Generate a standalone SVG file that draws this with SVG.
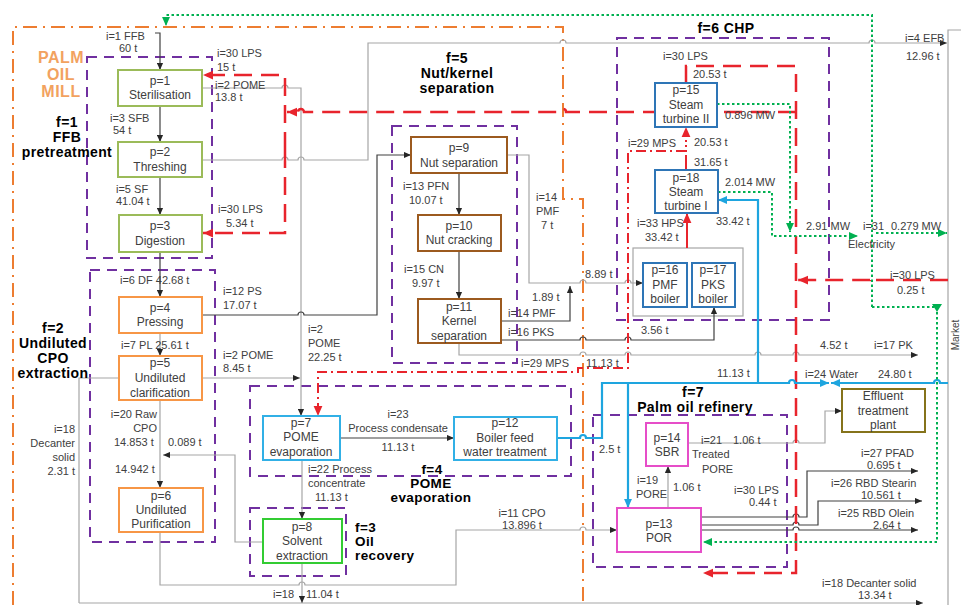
<svg xmlns="http://www.w3.org/2000/svg" width="961" height="605" viewBox="0 0 961 605">
<defs>
<style>
text{font-family:"Liberation Sans",Arial,sans-serif;font-size:11px;fill:#404040}
.n{font-size:12px;text-anchor:middle}
.m{text-anchor:middle}
.e{text-anchor:end}
.g{font-weight:bold;font-size:14px;fill:#000;text-anchor:middle;letter-spacing:0.4px}
.pm{font-weight:bold;font-size:16px;fill:#f2a25f;text-anchor:middle;letter-spacing:0.5px}
.grp{fill:none;stroke:#7030a0;stroke-width:2;stroke-dasharray:10 7}
.or{fill:none;stroke:#ed7d31;stroke-width:2;stroke-dasharray:14 6 2 6}
.gl{fill:none;stroke:#a6a6a6;stroke-width:1.2}
.bl{fill:none;stroke:#404040;stroke-width:1.2}
.rd{fill:none;stroke:#e8242c;stroke-width:2.5;stroke-dasharray:18 9}
.rdd{fill:none;stroke:#e8242c;stroke-width:2;stroke-dasharray:10 4 2 4}
.rs{fill:none;stroke:#e8242c;stroke-width:2}
.bu{fill:none;stroke:#1ea5df;stroke-width:2.2}
.gr{fill:none;stroke:#00b050;stroke-width:2;stroke-dasharray:2.5 2.5}
.nd{fill:#fff;stroke-width:2}
</style>
<marker id="ak" viewBox="0 0 8 8" refX="8" refY="4" markerWidth="7" markerHeight="7" markerUnits="userSpaceOnUse" orient="auto"><path d="M0,0.5 L8,4 L0,7.5z" fill="#262626"/></marker>
<marker id="ar" viewBox="0 0 8 8" refX="8" refY="4" markerWidth="10" markerHeight="10" markerUnits="userSpaceOnUse" orient="auto"><path d="M0,0.5 L8,4 L0,7.5z" fill="#e8242c"/></marker>
<marker id="ab" viewBox="0 0 8 8" refX="8" refY="4" markerWidth="9" markerHeight="9" markerUnits="userSpaceOnUse" orient="auto"><path d="M0,0.5 L8,4 L0,7.5z" fill="#1ea5df"/></marker>
<marker id="ag" viewBox="0 0 8 8" refX="8" refY="4" markerWidth="9" markerHeight="9" markerUnits="userSpaceOnUse" orient="auto"><path d="M0,0.5 L8,4 L0,7.5z" fill="#00b050"/></marker>
</defs>
<rect width="961" height="605" fill="#fff"/>

<g id="boundaries">
<path class="or" d="M13,605 V27 H563 V199 H583 V605"/>
<rect class="grp" x="87" y="57" width="125" height="201"/>
<rect class="grp" x="90" y="270" width="125" height="272"/>
<rect class="grp" x="392" y="126" width="125" height="237"/>
<rect class="grp" x="250" y="386" width="321" height="90"/>
<rect class="grp" x="250" y="508" width="96" height="68"/>
<rect class="grp" x="617" y="38" width="212" height="282"/>
<rect class="grp" x="593" y="415" width="194" height="152"/>
<rect x="633" y="248" width="110" height="68" fill="none" stroke="#a6a6a6" stroke-width="1.2"/>
<path class="gl" d="M948,605 V30 H961"/>
</g>

<g id="connectors">
<path class="bl" marker-end="url(#ak)" d="M155,33 H160 V70"/>
<path class="bl" marker-end="url(#ak)" d="M160,106 V142"/>
<path class="bl" marker-end="url(#ak)" d="M160,177 V215"/>
<path class="bl" marker-end="url(#ak)" d="M160,252 V297"/>
<path class="gl" marker-end="url(#ak)" d="M160,333 V356"/>
<path class="gl" marker-end="url(#ak)" d="M160,400 V488"/>
<path class="gl" marker-end="url(#ak)" d="M263,542 H235 V455 H163"/>
<path class="gl" d="M119,378 H79 V603"/>
<path class="gl" marker-end="url(#ak)" d="M79,603 H923"/>
<path class="gl" marker-end="url(#ak)" d="M160,532 V585 H299 a3,3 0 0 1 6,0 H456 V530 H580 a3,3 0 0 1 6,0 H617"/>
<path class="gl" marker-end="url(#ak)" d="M302,563 V603"/>
<path class="gl" marker-end="url(#ak)" d="M302,460 V519"/>
<path class="gl" marker-end="url(#ak)" d="M202,88 H282 a3,3 0 0 1 6,0 H301 V416"/>
<path class="gl" marker-end="url(#ak)" d="M202,378 H300"/>
<path class="gl" marker-end="url(#ak)" d="M202,160 H282 a3,3 0 0 1 6,0 H298 a3,3 0 0 1 6,0 H368 V43 H560 a3,3 0 0 1 6,0 H869 a3,3 0 0 1 6,0 H947"/>
<path class="bl" marker-end="url(#ak)" d="M202,315 H298 a3,3 0 0 1 6,0 H377 V155 H411"/>
<path class="bl" marker-end="url(#ak)" d="M340,438 H454"/>
<path class="bl" marker-end="url(#ak)" d="M459,173 V215"/>
<path class="bl" marker-end="url(#ak)" d="M459,251 V299"/>
<path class="gl" marker-end="url(#ak)" d="M507,155 H529 V283 H580 a3,3 0 0 1 6,0 H625 a3,3 0 0 1 6,0 H643"/>
<path class="bl" marker-end="url(#ak)" d="M501,321 H570 V286"/>
<path class="bl" marker-end="url(#ak)" d="M501,340 H580 a3,3 0 0 1 6,0 H625 a3,3 0 0 1 6,0 H714 V307"/>
<path class="gl" marker-end="url(#ak)" d="M459,343 V355 H580 a3,3 0 0 1 6,0 H625 a3,3 0 0 1 6,0 H755 a3,3 0 0 1 6,0 H793 a3,3 0 0 1 6,0 H918"/>
<path class="gl" marker-end="url(#ak)" d="M668,508 V466"/>
<path class="gl" marker-end="url(#ak)" d="M688,443 H793 a3,3 0 0 1 6,0 H825 V411 H842"/>
<path class="bl" marker-end="url(#ak)" d="M701,517 H793 a3,3 0 0 1 6,0 H807 V471 H918"/>
<path class="bl" marker-end="url(#ak)" d="M701,525 H793 a3,3 0 0 1 6,0 H818 V501 H922"/>
<path class="bl" marker-end="url(#ak)" d="M701,530 H793 a3,3 0 0 1 6,0 H918"/>
<path class="rd" marker-end="url(#ar)" d="M686,83 V66 H796 V573 H703"/>
<path class="rd" marker-end="url(#ar)" d="M796,112 H566 a3,3 0 0 0 -6,0 H304 a3,3 0 0 0 -6,0 H287"/>
<path class="rd" marker-end="url(#ar)" d="M285,150 V75 H203"/>
<path class="rd" marker-end="url(#ar)" d="M285,150 V233 H203"/>
<path class="rd" marker-end="url(#ar)" d="M948,280 H876 a3,3 0 0 0 -6,0 H798"/>
<path class="rdd" marker-end="url(#ar)" d="M686,151 H628 V368 H578 V372 H318 V416"/>
<path class="rs" d="M686,170 V157"/>
<path fill="none" stroke="#e8242c" stroke-width="2" stroke-dasharray="2 3" marker-end="url(#ar)" d="M686,157 V127"/>
<path class="rs" marker-end="url(#ar)" d="M687,248 V213"/>
<path class="bu" marker-end="url(#ab)" d="M557,438 H580 a3,3 0 0 1 6,0 H602 V383 H789 a3,3 0 0 1 6,0 H829"/>
<path class="bu" marker-end="url(#ab)" d="M948,383 H940 a3,3 0 0 0 -6,0 H831"/>
<path class="bu" marker-end="url(#ab)" d="M628,383 V508"/>
<path class="bu" marker-end="url(#ab)" d="M758,383 V200 H718"/>
<path class="gr" marker-end="url(#ag)" d="M717,104 H790 V232"/>
<path class="gr" marker-end="url(#ag)" d="M718,192 H772 V236 H858"/>
<path class="gr" marker-end="url(#ag)" d="M876,233 H947"/>
<path class="gr" marker-end="url(#ag)" d="M872,307 V15 H166 V26"/>
<path class="gr" marker-end="url(#ag)" d="M872,307 H937 V542 H703"/>
<path d="M932,304 L942,304 L937,312z" fill="#00b050"/>
</g>

<g id="p1"><rect class="nd" stroke="#9bbb59" x="118" y="70" width="84" height="36"/><text class="n" x="160" y="85">p=1</text><text class="n" x="160" y="99">Sterilisation</text></g>
<g id="p2"><rect class="nd" stroke="#9bbb59" x="118" y="142" width="84" height="35"/><text class="n" x="160" y="156">p=2</text><text class="n" x="160" y="171">Threshing</text></g>
<g id="p3"><rect class="nd" stroke="#9bbb59" x="119" y="215" width="83" height="37"/><text class="n" x="160" y="230">p=3</text><text class="n" x="160" y="245">Digestion</text></g>
<g id="p4"><rect class="nd" stroke="#f79646" x="119" y="297" width="83" height="36"/><text class="n" x="160" y="312">p=4</text><text class="n" x="160" y="326">Pressing</text></g>
<g id="p5"><rect class="nd" stroke="#f79646" x="119" y="356" width="83" height="44"/><text class="n" x="160" y="367">p=5</text><text class="n" x="160" y="382">Undiluted</text><text class="n" x="160" y="397">clarification</text></g>
<g id="p6"><rect class="nd" stroke="#f79646" x="119" y="488" width="84" height="44"/><text class="n" x="161" y="500">p=6</text><text class="n" x="161" y="514">Undiluted</text><text class="n" x="161" y="528">Purification</text></g>
<g id="p7"><rect class="nd" stroke="#31b0e6" x="263" y="416" width="77" height="44"/><text class="n" x="301" y="427">p=7</text><text class="n" x="301" y="441">POME</text><text class="n" x="301" y="456">evaporation</text></g>
<g id="p8"><rect class="nd" stroke="#33cc33" x="263" y="519" width="79" height="44"/><text class="n" x="302" y="531">p=8</text><text class="n" x="302" y="545">Solvent</text><text class="n" x="302" y="560">extraction</text></g>
<g id="p9"><rect class="nd" stroke="#9c5a1f" x="411" y="137" width="96" height="36"/><text class="n" x="459" y="152">p=9</text><text class="n" x="459" y="167">Nut separation</text></g>
<g id="p10"><rect class="nd" stroke="#9c5a1f" x="418" y="215" width="83" height="36"/><text class="n" x="459" y="230">p=10</text><text class="n" x="459" y="244">Nut cracking</text></g>
<g id="p11"><rect class="nd" stroke="#9c5a1f" x="418" y="299" width="83" height="44"/><text class="n" x="459" y="311">p=11</text><text class="n" x="459" y="325">Kernel</text><text class="n" x="459" y="340">separation</text></g>
<g id="p12"><rect class="nd" stroke="#31b0e6" x="454" y="417" width="103" height="43"/><text class="n" x="505" y="427">p=12</text><text class="n" x="505" y="442">Boiler feed</text><text class="n" x="505" y="456">water treatment</text></g>
<g id="p13"><rect class="nd" stroke="#e64ec8" x="617" y="508" width="84" height="44"/><text class="n" x="659" y="528">p=13</text><text class="n" x="659" y="542">POR</text></g>
<g id="p14"><rect class="nd" stroke="#e64ec8" x="646" y="423" width="42" height="43"/><text class="n" x="667" y="442">p=14</text><text class="n" x="667" y="456">SBR</text></g>
<g id="p15"><rect class="nd" stroke="#2e75b6" x="655" y="83" width="62" height="44"/><text class="n" x="686" y="94">p=15</text><text class="n" x="686" y="109">Steam</text><text class="n" x="686" y="123">turbine II</text></g>
<g id="p18"><rect class="nd" stroke="#2e75b6" x="655" y="170" width="63" height="43"/><text class="n" x="686" y="182">p=18</text><text class="n" x="686" y="196">Steam</text><text class="n" x="686" y="210">turbine I</text></g>
<g id="p16"><rect class="nd" stroke="#2e75b6" x="643" y="263" width="44" height="44"/><text class="n" x="665" y="274">p=16</text><text class="n" x="665" y="289">PMF</text><text class="n" x="665" y="303">boiler</text></g>
<g id="p17"><rect class="nd" stroke="#2e75b6" x="692" y="263" width="43" height="44"/><text class="n" x="713" y="274">p=17</text><text class="n" x="713" y="289">PKS</text><text class="n" x="713" y="303">boiler</text></g>
<g id="effluent"><rect class="nd" stroke="#85731b" x="842" y="389" width="83" height="43"/><text class="n" x="883" y="400">Effluent</text><text class="n" x="883" y="415">treatment</text><text class="n" x="883" y="429">plant</text></g>

<g id="group-labels">
<text class="pm" x="61" y="63">PALM</text>
<text class="pm" x="61" y="80">OIL</text>
<text class="pm" x="61" y="97">MILL</text>
<text class="g" x="67" y="127">f=1</text><text class="g" x="67" y="142">FFB</text><text class="g" x="67" y="157">pretreatment</text>
<text class="g" x="53" y="333">f=2</text><text class="g" x="53" y="348">Undiluted</text><text class="g" x="53" y="363">CPO</text><text class="g" x="53" y="378">extraction</text>
<text class="g" x="457" y="63">f=5</text><text class="g" x="457" y="78">Nut/kernel</text><text class="g" x="457" y="93">separation</text>
<text class="g" x="726" y="33">f=6 CHP</text>
<text class="g" x="693" y="397">f=7</text><text class="g" x="695" y="412">Palm oil refinery</text>
<text class="g" x="432" y="474" style="font-size:13.5px">f=4</text><text class="g" x="431" y="488" style="font-size:13.5px">POME</text><text class="g" x="431" y="502" style="font-size:13.5px">evaporation</text>
<text class="g" x="355" y="532" style="text-anchor:start;font-size:13.5px">f=3</text><text class="g" x="355" y="546" style="text-anchor:start;font-size:13.5px">Oil</text><text class="g" x="355" y="560" style="text-anchor:start;font-size:13.5px">recovery</text>
<text x="959" y="335" transform="rotate(-90 959 335)" class="m" style="font-size:10px">Market</text>
</g>

<g id="flow-labels">
<text x="106" y="40">i=1 FFB</text><text x="119" y="52">60 t</text>
<text x="217" y="57">i=30 LPS</text><text x="217" y="71">15 t</text>
<text x="215" y="89">i=2 POME</text><text x="215" y="101">13.8 t</text>
<text x="110" y="122">i=3 SFB</text><text x="113" y="134">54 t</text>
<text x="116" y="193">i=5 SF</text><text x="116" y="205">41.04 t</text>
<text x="218" y="213">i=30 LPS</text><text x="226" y="227">5.34 t</text>
<text x="120" y="284">i=6 DF  42.68 t</text>
<text x="223" y="295">i=12 PS</text><text x="223" y="309">17.07 t</text>
<text x="121" y="349">i=7 PL  25.61 t</text>
<text x="223" y="359">i=2 POME</text><text x="223" y="372">8.45 t</text>
<text x="308" y="333">i=2</text><text x="308" y="347">POME</text><text x="308" y="361">22.25 t</text>
<text class="e" x="75" y="433">i=18</text><text class="e" x="75" y="447">Decanter</text><text class="e" x="75" y="461">solid</text><text class="e" x="75" y="475">2.31 t</text>
<text class="e" x="157" y="418">i=20 Raw</text><text class="e" x="157" y="432">CPO</text>
<text x="114" y="446">14.853 t</text><text x="168" y="446">0.089 t</text><text x="115" y="473">14.942 t</text>
<text x="308" y="473">i=22 Process</text><text x="308" y="487">concentrate</text><text x="315" y="501">11.13 t</text>
<text class="m" x="398" y="418">i=23</text><text class="m" x="398" y="432">Process condensate</text><text class="m" x="398" y="451">11.13 t</text>
<text class="m" x="522" y="517">i=11 CPO</text><text class="m" x="522" y="529">13.896 t</text>
<text x="273" y="598">i=18</text><text x="306" y="598">11.04 t</text>
<text x="403" y="190">i=13 PFN</text><text x="409" y="204">10.07 t</text>
<text x="404" y="273">i=15 CN</text><text x="412" y="287">9.97 t</text>
<text x="536" y="201">i=14</text><text x="536" y="215">PMF</text><text x="541" y="229">7 t</text>
<text x="585" y="278">8.89 t</text>
<text x="532" y="301">1.89 t</text>
<text x="508" y="317">i=14 PMF</text>
<text x="508" y="336">i=16 PKS</text>
<text x="521" y="367">i=29 MPS</text><text x="586" y="367">11.13 t</text>
<text x="641" y="334">3.56 t</text>
<text x="717" y="377">11.13 t</text>
<text x="820" y="349">4.52 t</text><text x="874" y="349">i=17 PK</text>
<text x="805" y="378">i=24 Water</text><text x="878" y="378">24.80 t</text>
<text x="890" y="279">i=30 LPS</text><text x="897" y="294">0.25 t</text>
<text x="806" y="230">2.91 MW</text><text x="863" y="230">i=31</text><text x="848" y="248">Electricity</text><text x="891" y="230">0.279 MW</text>
<text x="637" y="227">i=33 HPS</text><text x="645" y="241">33.42 t</text>
<text x="716" y="225">33.42 t</text>
<text x="663" y="60">i=30 LPS</text><text x="693" y="78">20.53 t</text><text x="725" y="119">0.896 MW</text>
<text x="628" y="147">i=29 MPS</text><text x="694" y="146">20.53 t</text><text x="694" y="166">31.65 t</text><text x="725" y="186">2.014 MW</text>
<text x="905" y="42">i=4 EFB</text><text x="906" y="60">12.96 t</text>
<text x="599" y="453">2.5 t</text>
<text x="701" y="444">i=21</text><text x="733" y="444">1.06 t</text><text x="692" y="458">Treated</text><text x="702" y="473">PORE</text>
<text x="637" y="484">i=19</text><text x="636" y="498">PORE</text><text x="673" y="491">1.06 t</text>
<text x="734" y="494">i=30 LPS</text><text x="749" y="506">0.44 t</text>
<text x="861" y="457">i=27 PFAD</text><text x="867" y="469">0.695 t</text>
<text x="831" y="487">i=26 RBD Stearin</text><text x="861" y="499">10.561 t</text>
<text x="838" y="517">i=25 RBD Olein</text><text x="873" y="529">2.64 t</text>
<text x="822" y="587">i=18 Decanter solid</text><text x="858" y="599">13.34 t</text>
</g>
</svg>
